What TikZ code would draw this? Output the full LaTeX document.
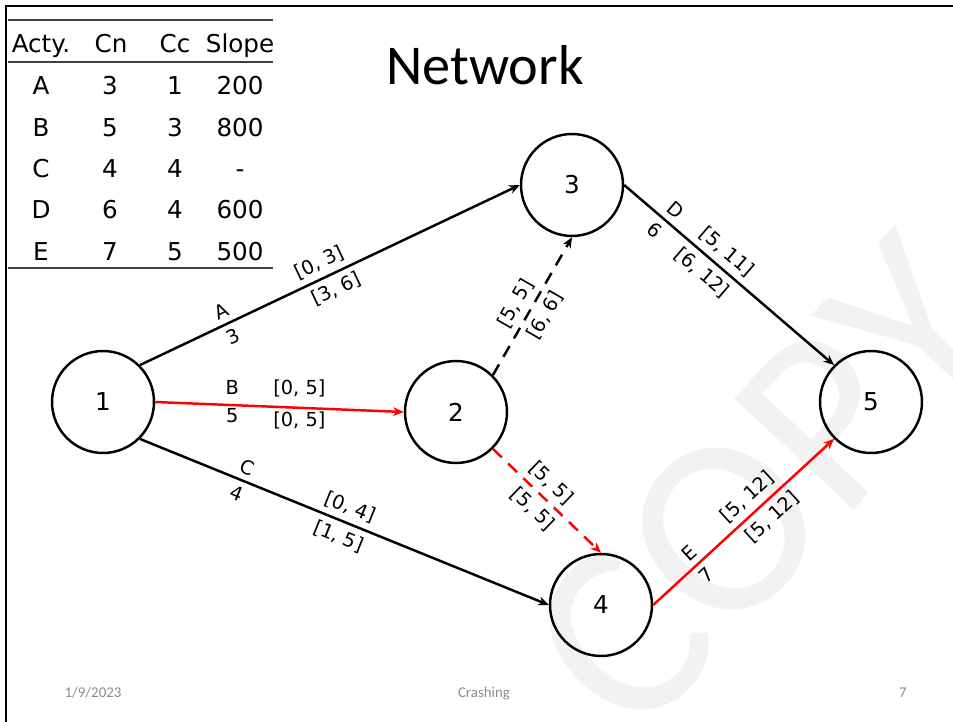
\documentclass[tikz,border=0pt]{standalone}
\usepackage{fontspec}
\setmainfont{DejaVu Sans}
\newfontfamily\slidefont{Carlito}
\usetikzlibrary{arrows.meta}

\begin{document}
\begin{tikzpicture}[x=0.02cm, y=-0.02cm,
    event/.style={circle, draw, line width=1.4pt, minimum size=2.04cm, inner sep=0pt, font=\fontsize{14}{16}\selectfont},
    act/.style={line width=1.4pt, -{Stealth[length=6pt, width=5pt]}},
    crit/.style={act, red},
    dummy/.style={dash pattern=on 7pt off 5pt},
    lbl/.style={font=\fontsize{11}{13}\selectfont, text=black},
    cell/.style={font=\fontsize{14}{16}\selectfont, anchor=base},
    foot/.style={font=\slidefont\fontsize{8.5}{10}\selectfont, text=black!45, anchor=base}]

      \useasboundingbox (0,0) rectangle (953,722);

      % Watermark behind everything
      \node[rotate=47, text=black!5, font=\slidefont\fontsize{145}{145}\selectfont] (wm) at (765,485) {COPY};

      % Slide frame
      \draw[line width=1.4pt] (6,722) -- (6,6) -- (953,6);

      % Title
      \node[font=\slidefont\fontsize{32}{36}\selectfont, anchor=base] (title) at (485,85) {Network};

      % Table of crash data
      \draw[line width=0.6pt, black!75] (8,20) -- (273,20);
      \draw[line width=0.6pt, black!75] (8,62) -- (273,62);
      \draw[line width=0.6pt, black!75] (8,268) -- (273,268);
      \node[cell] (hacty) at (41,53) {Acty.};
      \node[cell] (hcn) at (111,53) {Cn};
      \node[cell] (hcc) at (175,53) {Cc};
      \node[cell] (hslope) at (240,53) {Slope};
      \foreach \a/\n/\c/\s [count=\i] in {A/3/1/200, B/5/3/800, C/4/4/-, D/6/4/600, E/7/5/500} {
        \node[cell] (acty\i) at (41,{95+41.3*(\i-1)}) {\a};
        \node[cell] (cn\i) at (110,{95+41.3*(\i-1)}) {\n};
        \node[cell] (cc\i) at (175,{95+41.3*(\i-1)}) {\c};
        \node[cell] (slope\i) at (240,{95+41.3*(\i-1)}) {\s};
      }

      % Events
      \node[event] (n1) at (103,402) {1};
      \node[event] (n2) at (456,412) {2};
      \node[event] (n3) at (572,185) {3};
      \node[event] (n4) at (601,605) {4};
      \node[event] (n5) at (871,402) {5};

      % Activities
      \draw[act] (n1.45) -- node[lbl, pos=0.23, above, sloped] {A} node[lbl, pos=0.23, below, sloped] {3}
        node[lbl, pos=0.49, above, sloped] {[0, 3]} node[lbl, pos=0.5, below, sloped] {[3, 6]} (n3.west);
      \draw[crit] (n1.east) -- node[lbl, pos=0.31, above, yshift=2pt] {B} node[lbl, pos=0.31, below, yshift=2pt] {5}
        node[lbl, pos=0.58, above, yshift=2pt] {[0, 5]} node[lbl, pos=0.58, below, yshift=2pt] {[0, 5]} (n2.west);
      \draw[act] (n1.-45) -- node[lbl, pos=0.25, above, sloped] {C} node[lbl, pos=0.25, below, sloped] {4}
        node[lbl, pos=0.5, above, sloped] {[0, 4]} node[lbl, pos=0.5, below, sloped] {[1, 5]} (n4.west);
      \draw[act, dummy] (n2.45) -- node[lbl, pos=0.46, above, sloped] {[5, 5]}
        node[lbl, pos=0.49, below, sloped] {[6, 6]} (n3.south);
      \draw[crit, dummy] (n2.-45) -- node[lbl, pos=0.44, above, sloped] {[5, 5]}
        node[lbl, pos=0.47, below, sloped] {[5, 5]} (n4.north);
      \draw[act] (n3.east) -- node[lbl, pos=0.2, above, sloped] {D} node[lbl, pos=0.19, below, sloped] {6}
        node[lbl, pos=0.44, above, sloped] {[5, 11]} node[lbl, pos=0.42, below, sloped] {[6, 12]} (n5.135);
      \draw[crit] (n4.east) -- node[lbl, pos=0.25, above, sloped] {E} node[lbl, pos=0.24, below, sloped] {7}
        node[lbl, pos=0.58, above, sloped] {[5, 12]} node[lbl, pos=0.6, below, sloped] {[5, 12]} (n5.-135);

      % Footer
      \node[foot] (date) at (93,697) {1/9/2023};
      \node[foot] (topic) at (484,697) {Crashing};
      \node[foot] (page) at (903,697) {7};
    \end{tikzpicture}
\end{document}
